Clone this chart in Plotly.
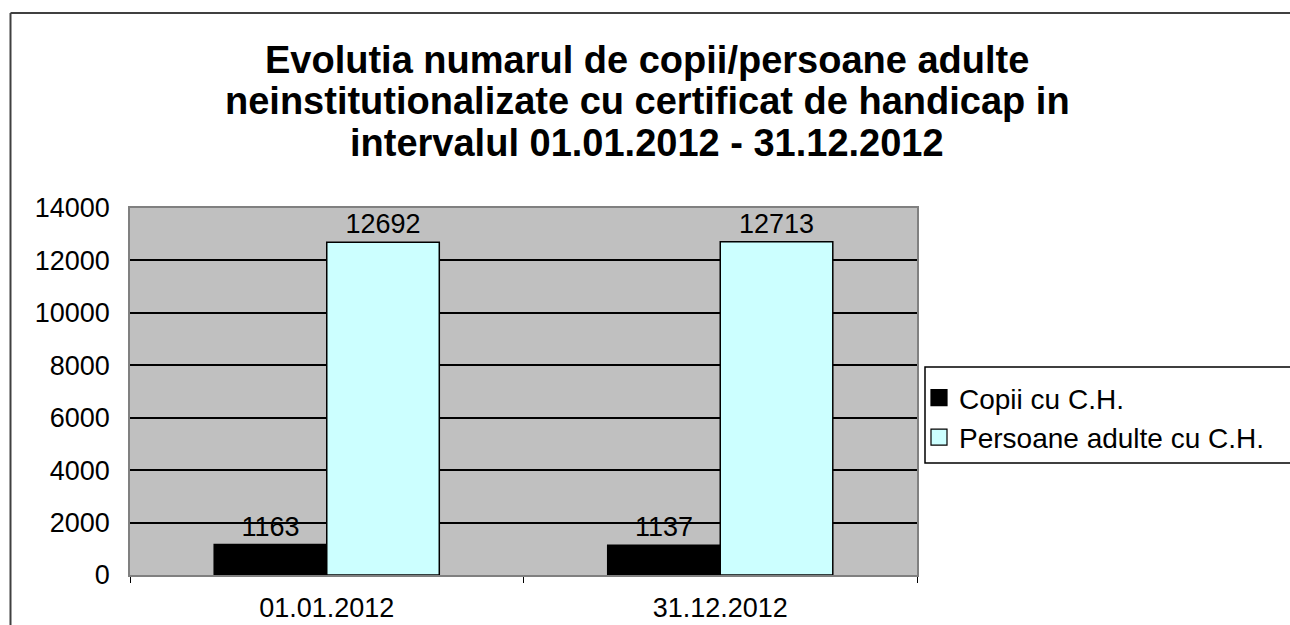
import plotly.graph_objects as go

categories = ["01.01.2012", "31.12.2012"]
copii = [1163, 1137]
adulti = [12692, 12713]
series_names = ["Copii cu C.H.", "Persoane adulte cu C.H."]
series_colors = ["#000000", "#CCFFFF"]
title_lines = [
    "Evolutia numarul de copii/persoane adulte",
    "neinstitutionalizate cu certificat de handicap in",
    "intervalul 01.01.2012 - 31.12.2012",
]

W, H = 1290, 625
ML, MR, MT, MB = 130, 373, 208, 50
PW, PH = W - ML - MR, H - MT - MB

FONT = "Liberation Sans, Arial, sans-serif"


def px_to_paper_x(px):
    return (px - ML) / PW


def px_to_paper_y(py):
    return 1 - (py - MT) / PH


fig = go.Figure()
for name, vals, col in zip(series_names, [copii, adulti], series_colors):
    fig.add_trace(go.Bar(
        x=categories, y=vals, name=name, showlegend=False,
        marker=dict(color=col, line=dict(color="#000000", width=1.5)),
        text=[str(v) for v in vals], textposition="outside",
        textfont=dict(family=FONT, size=27, color="#000000"),
        cliponaxis=False,
    ))
# legend entries (larger square symbols)
for name, col in zip(series_names, series_colors):
    fig.add_trace(go.Scatter(
        x=[None], y=[None], mode="markers", name=name, showlegend=True,
        marker=dict(symbol="square", size=17, color=col,
                    line=dict(color="#000000", width=1.2)),
    ))

fx = px_to_paper_x(10.5)
fy = px_to_paper_y(13)

title_centers = [60, 101, 143]
annotations = [
    dict(text="<b>%s</b>" % t, xref="paper", yref="paper",
         x=px_to_paper_x(647), y=px_to_paper_y(cy),
         xanchor="center", yanchor="middle", showarrow=False,
         font=dict(family=FONT, size=38, color="#000000"))
    for t, cy in zip(title_lines, title_centers)
]

fig.update_layout(
    width=W, height=H,
    margin=dict(l=ML, r=MR, t=MT, b=MB, autoexpand=False),
    paper_bgcolor="#FFFFFF",
    plot_bgcolor="#C0C0C0",
    barmode="group", bargap=0.428, bargroupgap=0,
    font=dict(family=FONT, size=27, color="#000000"),
    annotations=annotations,
    showlegend=True,
    legend=dict(
        x=px_to_paper_x(919), xanchor="left",
        y=px_to_paper_y(373), yanchor="top",
        borderwidth=0,
        bgcolor="rgba(0,0,0,0)",
        font=dict(family=FONT, size=28, color="#000000"),
        tracegroupgap=0, itemsizing="trace", itemwidth=30,
    ),
    xaxis=dict(
        type="category", automargin=False,
        showline=True, linecolor="#808080", linewidth=1.5, mirror=True,
        ticks="outside", tickson="boundaries", ticklen=6, tickcolor="#000000",
        ticklabelstandoff=8,
        tickfont=dict(family=FONT, size=27, color="#000000"),
        showgrid=False,
    ),
    yaxis=dict(
        range=[0, 14000], dtick=2000, tickformat="d", automargin=False,
        showline=True, linecolor="#808080", linewidth=1.5, mirror=True,
        showgrid=True, gridcolor="#000000", gridwidth=1.5,
        zeroline=False,
        ticks="", ticklabelstandoff=13,
        tickfont=dict(family=FONT, size=27, color="#000000"),
    ),
    shapes=[
        dict(type="line", xref="paper", yref="paper",
             x0=fx, x1=fx, y0=-1, y1=fy,
             line=dict(color="#404040", width=2)),
        dict(type="line", xref="paper", yref="paper",
             x0=fx, x1=3, y0=fy, y1=fy,
             line=dict(color="#404040", width=2)),
        dict(type="rect", xref="paper", yref="paper", layer="above",
             x0=px_to_paper_x(925), x1=px_to_paper_x(1300),
             y0=px_to_paper_y(463), y1=px_to_paper_y(367),
             fillcolor="#FFFFFF",
             line=dict(color="#000000", width=1.5)),
    ],
)

fig.write_html(
    "out.html",
    config={"displayModeBar": False},
    post_script="document.body.style.margin='0';document.body.style.overflow='hidden';",
)
